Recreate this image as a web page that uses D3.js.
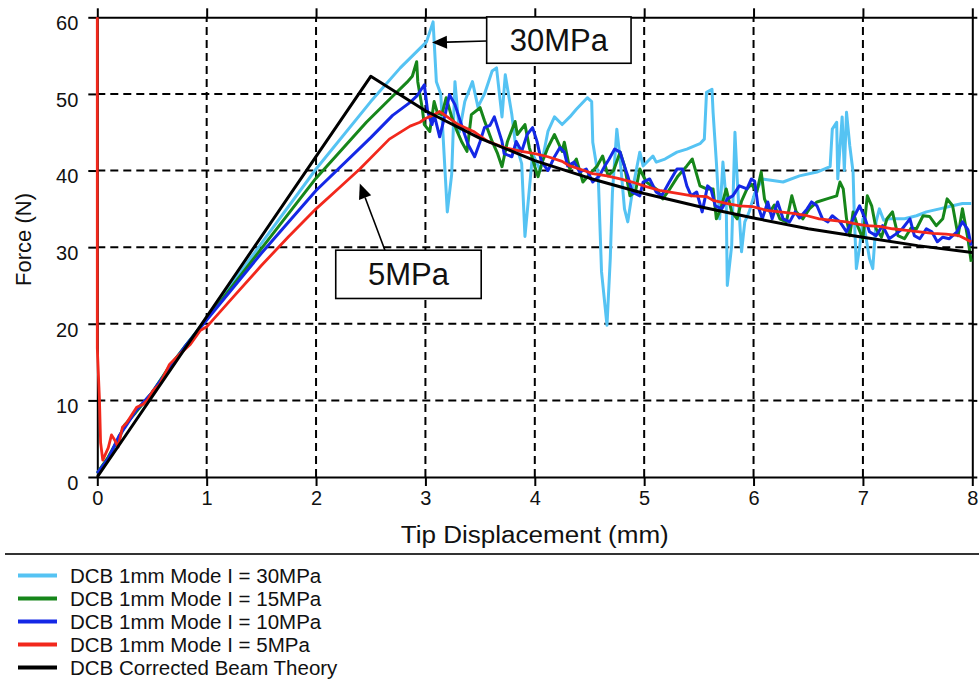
<!DOCTYPE html>
<html lang="en">

<head>
    <meta charset="UTF-8">
    <title>DCB Force vs Tip Displacement</title>
    <script src="https://cdn.jsdelivr.net/npm/d3@7"></script>
    <style>
        body {
            margin: 0;
            background-color: #fff;
            font-family: 'Liberation Sans', Arial, sans-serif;
        }
        svg text {
            fill: #111;
        }
    </style>
</head>

<body>
    <svg id="chart" width="979" height="682"></svg>

    <script>
        // tick labels
        const xTicks = [0, 1, 2, 3, 4, 5, 6, 7, 8];
        const yTicks = [0, 10, 20, 30, 40, 50, 60];

        // [tip displacement (mm), force (N)]
        const mpa30 = [[0, 0.5], [0.1, 2.5], [0.2, 5], [0.25, 6.6], [0.35, 8.5], [0.5, 11], [0.65, 14.2], [0.8, 17], [1, 20.7],
            [1.5, 30.5], [2, 40.2], [2.5, 49], [2.77, 53.4], [3.01, 56.8], [3.07, 59.4], [3.10, 51.6],
            [3.14, 50], [3.20, 34.6], [3.24, 39.5], [3.27, 51.6], [3.31, 45], [3.36, 49], [3.43, 51.6], [3.48, 48.3],
            [3.54, 50], [3.61, 53], [3.65, 53.4], [3.70, 47], [3.73, 52.5], [3.79, 47.3], [3.82, 43.8], [3.88, 40.9],
            [3.91, 31.4], [3.94, 36], [3.98, 42.2], [4.05, 40], [4.12, 45.1], [4.18, 47], [4.25, 46], [4.32, 47],
            [4.38, 48], [4.48, 49.5], [4.52, 49], [4.53, 43.7], [4.58, 39.3], [4.61, 26.8], [4.66, 19.8], [4.69, 28.5],
            [4.71, 37.2], [4.75, 45.4], [4.78, 41.5], [4.82, 35], [4.85, 33.3], [4.90, 38], [4.96, 42.4], [4.99, 40.6],
            [5.08, 41.9], [5.11, 41.1], [5.19, 41.5], [5.30, 42.4], [5.39, 42.8], [5.51, 43.5], [5.55, 44.1], [5.57, 50.2],
            [5.62, 50.6], [5.63, 47.6], [5.66, 41.1], [5.69, 33.7], [5.72, 41.1], [5.75, 36], [5.76, 25], [5.80, 30.2],
            [5.83, 45], [5.85, 39], [5.89, 29.4], [5.92, 33.3], [5.96, 34.6], [6.01, 37], [6.08, 38.9], [6.27, 38.5],
            [6.42, 39.3], [6.58, 39.8], [6.70, 40.5], [6.72, 45.4], [6.76, 46.3], [6.77, 38.9], [6.81, 47], [6.83, 40],
            [6.85, 47.6], [6.88, 43.2], [6.91, 39.8], [6.92, 34.6], [6.94, 27.2], [6.97, 30], [7.00, 33.7], [7.06, 28.5],
            [7.09, 27.2], [7.12, 33.3], [7.15, 35], [7.19, 33.5], [7.24, 33.7], [7.38, 33.7], [7.49, 34.1], [7.58, 34.6],
            [7.70, 35], [7.82, 35.4], [7.91, 35.7], [7.99, 35.7]];

        const mpa15 = [[0, 0.5], [0.1, 2.6], [0.2, 5.2], [0.25, 6.8], [0.35, 8.4], [0.5, 11], [0.65, 14.2], [0.8, 17], [1, 20.6],
            [1.5, 29.8], [2, 39], [2.46, 46.3], [2.7, 49.7], [2.83, 51.5], [2.88, 52.3], [2.92, 54.2],
            [2.93, 51.6], [2.97, 48.2], [2.99, 46], [3.04, 45.1], [3.08, 49], [3.11, 47.5], [3.15, 47.3], [3.19, 49.5],
            [3.24, 47], [3.29, 45.1], [3.33, 43.8], [3.38, 42.5], [3.42, 47.3], [3.50, 48.2], [3.54, 46.5], [3.61, 43.8],
            [3.66, 42.2], [3.70, 40.5], [3.75, 43.8], [3.82, 46.4], [3.84, 44.7], [3.91, 46], [3.95, 43], [4.00, 40.5],
            [4.03, 39.2], [4.07, 41.2], [4.12, 43], [4.18, 44.7], [4.25, 42.5], [4.27, 43.7], [4.32, 40.2], [4.38, 41.5],
            [4.44, 38.5], [4.50, 39.5], [4.57, 40.6], [4.62, 41.9], [4.67, 39.3], [4.72, 40], [4.78, 42.4], [4.82, 40.6],
            [4.87, 36.7], [4.92, 37.2], [4.96, 40.2], [5.02, 38.5], [5.11, 37.6], [5.17, 36.3], [5.23, 37.5], [5.31, 39.3],
            [5.39, 40.6], [5.44, 41.5], [5.51, 38], [5.57, 37.6], [5.63, 37.6], [5.66, 33.7], [5.70, 35], [5.75, 37.6],
            [5.80, 34.6], [5.85, 33.7], [5.89, 36], [5.94, 37.6], [5.98, 38.2], [6.03, 37.2], [6.07, 39.8], [6.10, 36.3],
            [6.15, 34.6], [6.19, 35.5], [6.24, 33.7], [6.30, 33.3], [6.35, 36.7], [6.39, 34.6], [6.45, 33.7], [6.51, 35],
            [6.58, 35.9], [6.67, 36.3], [6.76, 36.7], [6.79, 38.5], [6.82, 37.6], [6.85, 33.7], [6.88, 31.5], [6.91, 34.6],
            [6.95, 32.8], [7.00, 31.1], [7.04, 36.7], [7.08, 35.4], [7.12, 32.4], [7.17, 31.3], [7.22, 33.7], [7.27, 34.6],
            [7.32, 31.5], [7.38, 31.1], [7.44, 32.5], [7.49, 32.4], [7.55, 34.1], [7.61, 34], [7.67, 32.8], [7.73, 33.7],
            [7.77, 36.3], [7.82, 35.4], [7.87, 31.5], [7.91, 35], [7.96, 31.1], [7.99, 28.1]];

        const mpa10 = [[0, 0.5], [0.1, 2.4], [0.2, 5.4], [0.25, 6.4], [0.35, 8.6], [0.5, 11], [0.65, 14], [0.8, 17], [1, 20.5],
            [1.5, 29.2], [2, 37.4], [2.5, 44.3], [2.7, 47.2], [2.86, 48.9], [2.92, 49.7], [2.99, 51.2],
            [3.02, 47.7], [3.06, 46], [3.08, 47.3], [3.13, 44.4], [3.18, 47.3], [3.22, 49.9], [3.27, 48.6], [3.30, 47.3],
            [3.34, 45.5], [3.39, 43.4], [3.45, 41.8], [3.50, 43.8], [3.54, 45.6], [3.59, 45.9], [3.63, 47], [3.70, 43.8],
            [3.72, 42.2], [3.79, 41.8], [3.83, 43.8], [3.88, 42.5], [3.93, 44.7], [3.98, 45.6], [4.02, 43.8], [4.06, 41.2],
            [4.12, 40], [4.18, 41.8], [4.23, 43], [4.27, 42.4], [4.30, 40.6], [4.36, 41.1], [4.41, 39.8], [4.47, 40.2],
            [4.53, 38.5], [4.59, 39.3], [4.64, 40.6], [4.68, 41.5], [4.73, 42.8], [4.78, 42.4], [4.81, 41], [4.85, 39.3],
            [4.89, 37.2], [4.96, 36.7], [4.99, 38.5], [5.05, 38.9], [5.11, 37.2], [5.16, 36.7], [5.23, 38.5], [5.30, 40.2],
            [5.35, 40.2], [5.39, 38], [5.43, 36.7], [5.48, 37.2], [5.53, 34.6], [5.58, 38], [5.61, 37.6], [5.65, 35.4],
            [5.71, 35], [5.76, 36.3], [5.81, 36.7], [5.87, 38], [5.94, 37.6], [5.98, 38.9], [6.01, 38.6], [6.04, 35.4],
            [6.08, 33.7], [6.13, 35.9], [6.17, 33.7], [6.22, 35.9], [6.27, 33.7], [6.33, 33.3], [6.38, 34.6], [6.42, 33.8],
            [6.49, 35], [6.53, 35.9], [6.58, 35.4], [6.63, 33.7], [6.68, 33.3], [6.72, 34.1], [6.79, 33.3], [6.85, 32],
            [6.91, 33.7], [6.97, 35.4], [7.02, 33.7], [7.06, 32], [7.12, 31.5], [7.18, 32.8], [7.24, 31.1], [7.30, 31.7],
            [7.36, 32.4], [7.43, 33.7], [7.47, 31.5], [7.52, 31.1], [7.58, 32.4], [7.63, 32], [7.68, 30.7], [7.73, 31.3],
            [7.79, 31.1], [7.86, 32], [7.91, 33.3], [7.96, 32.3], [7.99, 30.2]];

        const mpa5 = [[0, 60], [0, 16.8], [0.02, 10], [0.03, 4.5], [0.05, 2.2], [0.1, 3.8], [0.13, 5.5], [0.16, 4.8],
            [0.19, 3.9], [0.23, 6.5], [0.27, 7.1], [0.36, 9.1], [0.42, 9.5], [0.46, 10.1], [0.51, 11.3], [0.57, 12.1],
            [0.66, 14.7], [0.75, 16], [0.85, 17.3], [0.94, 19.1], [1, 19.6], [1.25, 23.6], [1.5, 27.6], [1.75, 31.4],
            [2.0, 35], [2.2, 37.6], [2.4, 40.2], [2.67, 44.1], [2.86, 45.8], [2.95, 46.3], [3.0, 46.8],
            [3.08, 47.3], [3.13, 47.7], [3.2, 47], [3.3, 46], [3.44, 45.1], [3.57, 43.8], [3.72, 43], [3.88, 42.5],
            [4.00, 42.2], [4.12, 41.8], [4.25, 41.2], [4.32, 40.6], [4.41, 40.2], [4.53, 39.6], [4.66, 39.3], [4.78, 38.9],
            [4.89, 38.5], [5.02, 37.9], [5.14, 37.4], [5.32, 37], [5.44, 36.7], [5.57, 36.6], [5.63, 36.1], [5.75, 35.7],
            [5.87, 35.4], [5.99, 35.3], [6.12, 34.8], [6.24, 34.6], [6.36, 34.4], [6.49, 34.1], [6.60, 33.7], [6.72, 33.5],
            [6.85, 33.3], [6.91, 33.1], [7.03, 32.8], [7.15, 32.7], [7.27, 32.4], [7.40, 32.2], [7.52, 32], [7.64, 31.8],
            [7.76, 31.7], [7.88, 31.5], [7.99, 30.7]];

        const beamTheory = [[0, 0], [2.5, 52.3], [3, 47.8], [3.5, 44.2], [4, 41.3], [4.5, 39], [5, 37], [5.5, 35.3],
            [6, 33.8], [6.5, 32.4], [7, 31.3], [7.5, 30.2], [8, 29.3]];

        const seriesNames = ["DCB 1mm Mode I = 30MPa", "DCB 1mm Mode I = 15MPa", "DCB 1mm Mode I = 10MPa",
            "DCB 1mm Mode I = 5MPa", "DCB Corrected Beam Theory"];
        const seriesColors = ["#55c3f3", "#16861a", "#1428e6", "#f2281c", "#000000"];
        const seriesData = [mpa30, mpa15, mpa10, mpa5, beamTheory];

        let svg = d3.select("#chart");

        const x = d3.scaleLinear().domain([0, 8]).range([97.3, 972.3]);
        const y = d3.scaleLinear().domain([0, 60]).range([477, 17.3]);

        //////////////// GRID
        svg.append("g")
            .selectAll("line")
            .data(xTicks.slice(1, -1))
            .enter()
            .append("line")
            .attr("x1", d => x(d)).attr("x2", d => x(d))
            .attr("y1", y(0)).attr("y2", y(60))
            .attr("stroke", "#000")
            .attr("stroke-width", 2)
            .attr("stroke-dasharray", "8,5");

        svg.append("g")
            .selectAll("line")
            .data(yTicks.slice(1, -1))
            .enter()
            .append("line")
            .attr("x1", x(0)).attr("x2", x(8))
            .attr("y1", d => y(d)).attr("y2", d => y(d))
            .attr("stroke", "#000")
            .attr("stroke-width", 2)
            .attr("stroke-dasharray", "8,5");

        //////////////// AXES (all four sides, ticks outward)
        const styleAxis = g => {
            g.select(".domain").attr("stroke", "#000").attr("stroke-width", 2);
            g.selectAll(".tick line").attr("stroke", "#000").attr("stroke-width", 2);
            g.selectAll(".tick text")
                .attr("fill", "#111")
                .style("font-family", "'Liberation Sans', Arial, sans-serif")
                .style("font-size", "20px");
        };

        svg.append("g")
            .attr("transform", `translate(0,${y(0)})`)
            .call(d3.axisBottom(x).tickValues(xTicks).tickSize(9).tickSizeOuter(0).tickPadding(5))
            .call(styleAxis);

        svg.append("g")
            .attr("transform", `translate(0,${y(60)})`)
            .call(d3.axisTop(x).tickValues(xTicks).tickSize(9).tickSizeOuter(0).tickFormat(""))
            .call(styleAxis);

        svg.append("g")
            .attr("transform", `translate(${x(0)},0)`)
            .call(d3.axisLeft(y).tickValues(yTicks).tickSize(9).tickSizeOuter(0).tickPadding(10))
            .call(styleAxis)
            .selectAll(".tick text").attr("dy", "0.62em");

        svg.append("g")
            .attr("transform", `translate(${x(8)},0)`)
            .call(d3.axisRight(y).tickValues(yTicks).tickSize(5).tickSizeOuter(0).tickFormat(""))
            .call(styleAxis);

        // axis titles
        svg.append("text")
            .attr("x", x(4))
            .attr("y", 543)
            .attr("text-anchor", "middle")
            .attr("textLength", 268)
            .attr("lengthAdjust", "spacingAndGlyphs")
            .style("font-size", "23px")
            .text("Tip Displacement (mm)");

        svg.append("text")
            .attr("transform", `translate(31,${y(31)}) rotate(-90)`)
            .attr("text-anchor", "middle")
            .style("font-size", "22px")
            .text("Force (N)");

        //////////////// CURVES
        const line = d3.line()
            .x(d => x(d[0]))
            .y(d => y(d[1]));

        const widths = [3, 3, 3, 2.8, 3];
        seriesData.forEach((data, i) => {
            svg.append("path")
                .datum(data)
                .attr("d", line)
                .attr("fill", "none")
                .attr("stroke", seriesColors[i])
                .attr("stroke-width", widths[i])
                .attr("stroke-linejoin", "round");
        });

        //////////////// ANNOTATIONS
        const notes = [
            { label: "30MPa", box: [3.56, 4.88, 60.05, 54.0], from: [3.56, 56.9], to: [3.06, 56.7] },
            { label: "5MPa", box: [2.18, 3.51, 29.6, 23.3], from: [2.63, 29.6], to: [2.40, 38.3] }
        ];

        notes.forEach(n => {
            const [xa, xb, ya, yb] = n.box;
            svg.append("rect")
                .attr("x", x(xa)).attr("y", y(ya))
                .attr("width", x(xb) - x(xa)).attr("height", y(yb) - y(ya))
                .attr("fill", "#fff")
                .attr("stroke", "#000")
                .attr("stroke-width", 1.6);
            svg.append("text")
                .attr("x", (x(xa) + x(xb)) / 2)
                .attr("y", (y(ya) + y(yb)) / 2)
                .attr("text-anchor", "middle")
                .attr("dominant-baseline", "central")
                .style("font-size", "31px")
                .text(n.label);

            // arrow line + filled head
            const x1 = x(n.from[0]), y1 = y(n.from[1]);
            const x2 = x(n.to[0]), y2 = y(n.to[1]);
            const ang = Math.atan2(y2 - y1, x2 - x1);
            const len = 15, half = 6.5;
            const bx = x2 - len * Math.cos(ang), by = y2 - len * Math.sin(ang);
            svg.append("line")
                .attr("x1", x1).attr("y1", y1)
                .attr("x2", bx).attr("y2", by)
                .attr("stroke", "#000")
                .attr("stroke-width", 1.6);
            svg.append("path")
                .attr("d", `M${x2},${y2}L${bx + half * Math.sin(ang)},${by - half * Math.cos(ang)}L${bx - half * Math.sin(ang)},${by + half * Math.cos(ang)}Z`)
                .attr("fill", "#000");
        });

        //////////////// LEGEND
        svg.append("line")
            .attr("x1", 5).attr("x2", 979)
            .attr("y1", 554).attr("y2", 554)
            .attr("stroke", "#333")
            .attr("stroke-width", 2);

        const legend = svg.append("g")
            .selectAll("g")
            .data(seriesNames)
            .enter()
            .append("g")
            .attr("transform", (d, i) => `translate(0,${575.5 + i * 23})`);

        legend.append("line")
            .attr("x1", 18).attr("x2", 57)
            .attr("stroke", (d, i) => seriesColors[i])
            .attr("stroke-width", 4);

        legend.append("text")
            .attr("x", 70)
            .attr("dominant-baseline", "central")
            .style("font-size", "20.5px")
            .text(d => d);
    </script>
</body>
</html>
